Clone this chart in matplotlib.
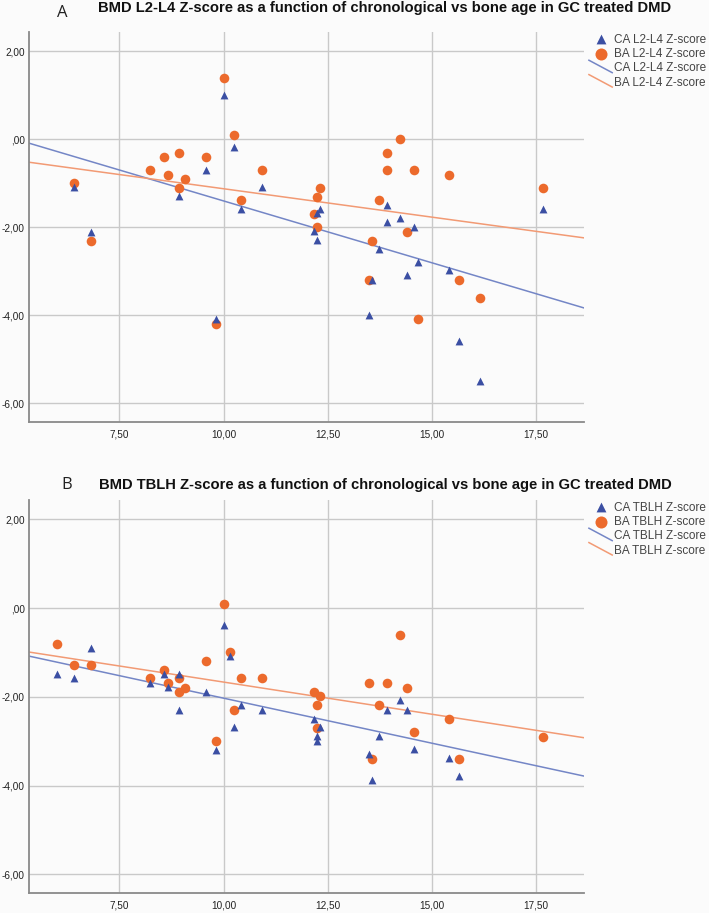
import matplotlib
matplotlib.use("Agg")
import matplotlib.pyplot as plt
from matplotlib.legend_handler import HandlerBase
from matplotlib.lines import Line2D
import numpy as np

# ---------------- data ----------------
titles = ["BMD L2-L4 Z-score as a function of chronological vs bone age in GC treated DMD",
          "BMD TBLH Z-score as a function of chronological vs bone age in GC treated DMD"]
panel_letters = ["A", "B"]
legend_A = ["CA L2-L4 Z-score", "BA L2-L4 Z-score", "CA L2-L4 Z-score", "BA L2-L4 Z-score"]
legend_B = ["CA TBLH Z-score", "BA TBLH Z-score", "CA TBLH Z-score", "BA TBLH Z-score"]

x_ticks = [7.5, 10.0, 12.5, 15.0, 17.5]
x_ticklabels = ["7,50", "10,00", "12,50", "15,00", "17,50"]
y_ticks = [-6, -4, -2, 0, 2]
y_ticklabels = ["-6,00", "-4,00", "-2,00", ",00", "2,00"]

# Panel A
a_ca_x = [6.41, 6.82, 8.92, 9.57, 9.82, 10.0, 10.25, 10.41, 10.92, 12.16, 12.24, 12.32, 12.24,
          13.49, 13.57, 13.74, 13.92, 13.92, 14.24, 14.41, 14.57, 14.66, 15.41, 15.66, 16.16, 17.66]
a_ca_y = [-1.09, -2.10, -1.29, -0.69, -4.09, 1.01, -0.18, -1.58, -1.09, -2.09, -1.68, -1.58, -2.29,
          -3.99, -3.20, -2.49, -1.49, -1.89, -1.79, -3.09, -1.99, -2.78, -2.98, -4.58, -5.49, -1.58]
a_ba_x = [6.41, 6.82, 8.24, 8.56, 8.66, 8.92, 8.92, 9.08, 9.57, 9.82, 10.0, 10.25, 10.41, 10.92,
          12.16, 12.24, 12.32, 12.24, 13.49, 13.57, 13.74, 13.92, 13.92, 14.24, 14.41, 14.57, 14.66,
          15.41, 15.66, 16.16, 17.66]
a_ba_y = [-0.99, -2.30, -0.70, -0.40, -0.80, -0.30, -1.10, -0.90, -0.40, -4.20, 1.40, 0.10, -1.39, -0.70,
          -1.70, -1.30, -1.10, -1.99, -3.20, -2.30, -1.39, -0.30, -0.70, 0.00, -2.10, -0.70, -4.09,
          -0.80, -3.20, -3.60, -1.10]
# fit lines: (intercept, slope)
a_ca_fit = (1.41, -0.281)
a_ba_fit = (0.167, -0.129)

# Panel B
b_ca_x = [6.0, 6.41, 6.82, 8.24, 8.56, 8.66, 8.92, 8.92, 9.57, 9.82, 10.0, 10.16, 10.25, 10.41, 10.92,
          12.16, 12.32, 12.24, 12.24, 13.49, 13.57, 13.74, 13.92, 14.24, 14.41, 14.57, 15.41, 15.66]
b_ca_y = [-1.48, -1.58, -0.89, -1.68, -1.49, -1.78, -1.49, -2.29, -1.89, -3.19, -0.38, -1.09, -2.68, -2.18, -2.29,
          -2.49, -2.68, -2.89, -2.99, -3.28, -3.88, -2.88, -2.29, -2.08, -2.29, -3.18, -3.38, -3.79]
b_ba_x = [6.0, 6.41, 6.82, 8.24, 8.56, 8.66, 8.92, 8.92, 9.08, 9.57, 9.82, 10.0, 10.16, 10.25, 10.41, 10.92,
          12.16, 12.32, 12.24, 12.24, 13.49, 13.57, 13.74, 13.92, 14.24, 14.41, 14.57, 15.41, 15.66, 17.66]
b_ba_y = [-0.80, -1.29, -1.29, -1.58, -1.39, -1.69, -1.58, -1.89, -1.79, -1.19, -2.99, 0.10, -0.99, -2.29, -1.58, -1.58,
          -1.89, -1.99, -2.19, -2.70, -1.69, -3.40, -2.19, -1.69, -0.60, -1.79, -2.80, -2.50, -3.40, -2.90]
b_ca_fit = (0.0, -0.203)
b_ba_fit = (-0.217, -0.145)

# ---------------- styling ----------------
BLUE_M = "#3b4fa3"
ORANGE_M = "#ec6a2c"
BLUE_L = "#7486c6"
ORANGE_L = "#f29a74"
GRID = "#c9c9c9"
BG = "#fbfbfb"
XLIM = (5.33, 18.66)
YLIM = (-6.43, 2.44)

plt.rcParams['font.family'] = ['Liberation Sans', 'DejaVu Sans']


class DiagLineHandler(HandlerBase):
    def create_artists(self, legend, orig_handle, xdescent, ydescent, width, height, fontsize, trans):
        line = Line2D([-xdescent - 2, width - xdescent + 2],
                      [height - ydescent + 2, -ydescent - 1],
                      color=orig_handle.get_color(), lw=orig_handle.get_linewidth())
        line.set_transform(trans)
        return [line]


fig = plt.figure(figsize=(7.09, 9.13), dpi=100, facecolor=BG)
ax_rects = [[0.041, 0.5375, 0.783, 0.4275], [0.041, 0.0216, 0.783, 0.4308]]
panels = [
    (a_ca_x, a_ca_y, a_ba_x, a_ba_y, a_ca_fit, a_ba_fit, legend_A),
    (b_ca_x, b_ca_y, b_ba_x, b_ba_y, b_ca_fit, b_ba_fit, legend_B),
]
title_y = [0.991, 0.469]
letter_y = [0.986, 0.469]
letter_x = [0.080, 0.086]

for i, (cx, cy, bx, by, cfit, bfit, labels) in enumerate(panels):
    ax = fig.add_axes(ax_rects[i])
    ax.set_facecolor(BG)
    ax.set_xlim(*XLIM)
    ax.set_ylim(*YLIM)
    ax.set_xticks(x_ticks)
    ax.set_xticklabels(x_ticklabels)
    ax.set_yticks(y_ticks)
    ax.set_yticklabels(y_ticklabels)
    ax.tick_params(length=0, labelsize=7.2, colors="#222222", pad=5)
    ax.tick_params(axis='y', pad=3)
    ax.grid(True, color=GRID, lw=1.0)
    ax.set_axisbelow(True)
    for s in ["top", "right"]:
        ax.spines[s].set_visible(False)
    for s in ["left", "bottom"]:
        ax.spines[s].set_color("#8a8a8a")
        ax.spines[s].set_linewidth(1.3)

    h1 = ax.scatter(cx, cy, marker="^", s=32, color=BLUE_M, zorder=4, linewidths=0)
    h2 = ax.scatter(bx, by, marker="o", s=48, color=ORANGE_M, zorder=3, linewidths=0)
    xs = np.array(XLIM)
    l1, = ax.plot(xs, cfit[0] + cfit[1] * xs, color=BLUE_L, lw=1.1, zorder=2)
    l2, = ax.plot(xs, bfit[0] + bfit[1] * xs, color=ORANGE_L, lw=1.1, zorder=2)

    leg = ax.legend([h1, h2, l1, l2], labels, loc="upper left",
                    bbox_to_anchor=(1.005, 1.008), frameon=False, fontsize=8.5,
                    handlelength=1.5, handletextpad=0.4, labelspacing=0.2,
                    borderaxespad=0.0, scatterpoints=1, markerscale=1.25,
                    handler_map={Line2D: DiagLineHandler()})
    for t in leg.get_texts():
        t.set_color("#444444")

    fig.text(0.543, title_y[i], titles[i], ha="center", va="center",
             fontsize=10.6, fontweight="bold", color="#111111")
    fig.text(letter_x[i], letter_y[i], panel_letters[i], ha="left", va="center",
             fontsize=12, color="#222222", family=["Open Sans", "DejaVu Sans"])

fig.savefig("out.png", dpi=100, facecolor=BG)
